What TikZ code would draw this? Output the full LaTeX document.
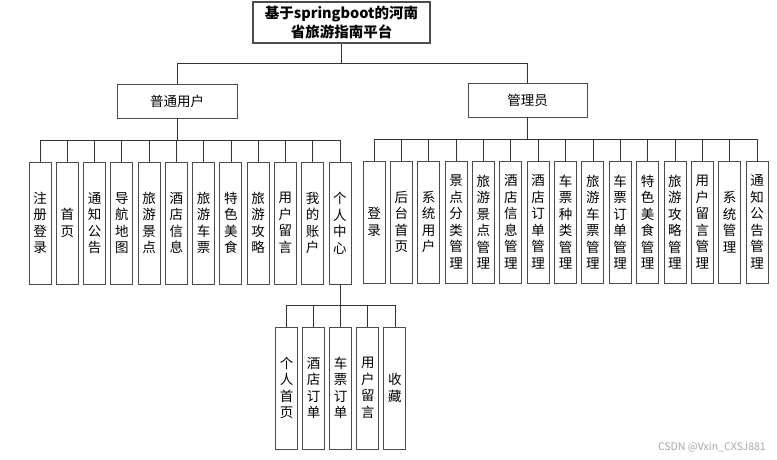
\documentclass[tikz,border=0pt]{standalone}
\usepackage{fontspec}
\setmainfont{Noto Sans CJK SC}
\begin{document}
\begin{tikzpicture}[x=1pt,y=-1pt,
  box/.style={draw=black!70, line width=0.9pt, fill=white, inner sep=0pt, align=center,
    font=\fontsize{13.5}{16.5}\selectfont},
  vbox/.style={box, minimum width=22, minimum height=122},
  conn/.style={draw=black!80, line width=0.75pt}]
\useasboundingbox (0,0) rectangle (777,460);
\node[box, line width=1.2pt, minimum width=177, minimum height=41,
  font=\fontsize{14.5}{19}\selectfont\bfseries] (title) at (341.5,22.5) {基于springboot的河南\\省旅游指南平台};
\node[box, minimum width=120, minimum height=34] (user) at (177,101) {普通用户};
\node[box, minimum width=119, minimum height=34] (admin) at (527.5,100) {管理员};
\draw[conn] (title.south) -- ++(0,20) -| (user.north);
\draw[conn] (title.south) -- ++(0,20) -| (admin.north);
\foreach \t [count=\i] in {{注\\册\\登\\录},{首\\页},{通\\知\\公\\告},{导\\航\\地\\图},{旅\\游\\景\\点},{酒\\店\\信\\息},{旅\\游\\车\\票},{特\\色\\美\\食},{旅\\游\\攻\\略},{用\\户\\留\\言},{我\\的\\账\\户},{个\\人\\中\\心}}{
  \node[vbox] (u\i) at ({40+(\i-1)*27.27},223) {\t};
  \draw[conn] (user.south) -- ++(0,22) -| (u\i.north);
}
\foreach \t [count=\i] in {{登\\录},{后\\台\\首\\页},{系\\统\\用\\户},{景\\点\\分\\类\\管\\理},{旅\\游\\景\\点\\管\\理},{酒\\店\\信\\息\\管\\理},{酒\\店\\订\\单\\管\\理},{车\\票\\种\\类\\管\\理},{旅\\游\\车\\票\\管\\理},{车\\票\\订\\单\\管\\理},{特\\色\\美\\食\\管\\理},{旅\\游\\攻\\略\\管\\理},{用\\户\\留\\言\\管\\理},{系\\统\\管\\理},{通\\知\\公\\告\\管\\理}}{
  \node[vbox] (a\i) at ({374+(\i-1)*27.36},222) {\t};
  \draw[conn] (admin.south) -- ++(0,22) -| (a\i.north);
}
\foreach \t [count=\i] in {{个\\人\\首\\页},{酒\\店\\订\\单},{车\\票\\订\\单},{用\\户\\留\\言},{收\\藏}}{
  \node[vbox] (s\i) at ({286.5+(\i-1)*27.1},388) {\t};
  \draw[conn] (u12.south) -- ++(0,21) -| (s\i.north);
}
\node[text=black!35, font=\fontsize{10.5}{12}\selectfont, anchor=east, inner sep=0pt] (wm) at (766,447) {CSDN @Vxin\_CXSJ881};
\end{tikzpicture}
\end{document}
